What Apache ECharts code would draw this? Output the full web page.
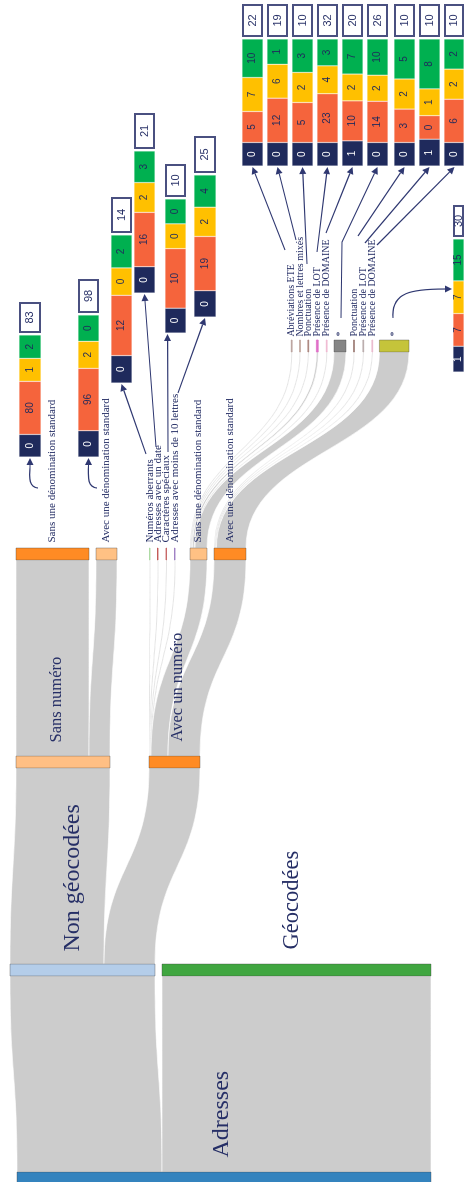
<!DOCTYPE html>
<html><head><meta charset="utf-8">
<script src="https://cdn.jsdelivr.net/npm/echarts@6/dist/echarts.min.js"></script>
<style>
html,body{margin:0;padding:0;width:464px;height:1182px;overflow:hidden;background:#fff}
#chart{position:absolute;left:0;top:0;width:1182px;height:464px;transform-origin:0 0;transform:translate(0,1182px) rotate(-90deg);}
</style></head><body><div id="chart"></div>
<script>
// ---------- DATA ----------
const nodeNames = [
 'Adresses','Non géocodées','Géocodées','Sans numéro','Avec un numéro',
 'Sans une dénomination standard#1','Avec une dénomination standard#1',
 'Numéros aberrants','Adresses avec un date','Caractères spéciaux','Adresses avec moins de 10 lettres',
 'Sans une dénomination standard#2','Avec une dénomination standard#2',
 'Abréviations ETE','Nombres et lettres mixés','Ponctuation#1','Présence de LOT#1','Présence de DOMAINE#1','*#1',
 'Ponctuation#2','Présence de LOT#2','Présence de DOMAINE#2','*#2'
];
const nodeDepths = [0,1,1,2,2,3,3,3,3,3,3,3,3,4,4,4,4,4,4,4,4,4,4];
const linkSources = ['Adresses','Adresses','Non géocodées','Non géocodées','Sans numéro','Sans numéro',
 'Avec un numéro','Avec un numéro','Avec un numéro','Avec un numéro','Avec un numéro','Avec un numéro',
 'Sans une dénomination standard#2','Sans une dénomination standard#2','Sans une dénomination standard#2',
 'Sans une dénomination standard#2','Sans une dénomination standard#2','Sans une dénomination standard#2',
 'Avec une dénomination standard#2','Avec une dénomination standard#2','Avec une dénomination standard#2','Avec une dénomination standard#2'];
const linkTargets = ['Non géocodées','Géocodées','Sans numéro','Avec un numéro',
 'Sans une dénomination standard#1','Avec une dénomination standard#1',
 'Numéros aberrants','Adresses avec un date','Caractères spéciaux','Adresses avec moins de 10 lettres',
 'Sans une dénomination standard#2','Avec une dénomination standard#2',
 'Abréviations ETE','Nombres et lettres mixés','Ponctuation#1','Présence de LOT#1','Présence de DOMAINE#1','*#1',
 'Ponctuation#2','Présence de LOT#2','Présence de DOMAINE#2','*#2'];
const linkValues = [145,269,94,51,73,21,0.5,0.5,0.5,0.5,17,32,0.8,0.8,0.8,1.8,0.8,12,0.8,0.8,0.8,29.6];

// stacked bars (one per detail node)
const barNodes = ['Sans une dénomination standard#1','Avec une dénomination standard#1','Numéros aberrants',
 'Adresses avec un date','Caractères spéciaux','Adresses avec moins de 10 lettres',
 'Abréviations ETE','Nombres et lettres mixés','Ponctuation#1','Présence de LOT#1','Présence de DOMAINE#1','*#1',
 'Ponctuation#2','Présence de LOT#2','Présence de DOMAINE#2','*#2'];
const valNavy   = [0,0,0,0,0,0, 0,0,0,0,1,0,0,1,0,1];
const valOrange = [80,96,12,16,10,19, 5,12,5,23,10,14,3,0,6,7];
const valYellow = [1,2,0,2,0,2, 7,6,2,4,2,2,2,1,2,7];
const valGreen  = [2,0,2,3,0,4, 10,1,3,3,7,10,5,8,2,15];
const valTotal  = [83,98,14,21,10,25, 22,19,10,32,20,26,10,10,10,30];

// ---------- LAYOUT / STYLE (portrait px of the reference) ----------
const W = 1182;
const SK_TOP = 10, SK_H = 421;
const nodeTopPx = [17,10,162,16,149,16,96,149.5,157.5,166,174.5,190,214,
 291.3,299.6,307.9,316.4,326.3,334,353.6,362.9,371.9,379.4];
const nodeColors = ['#3483be','#b4cde9','#40a640','#ffbf84','#ff8b24','#ff8b24','#ffc184',
 '#a9d8a0','#c0504f','#c46060','#9a78c0','#ffc184','#ff8b24',
 '#b9a09a','#c0a49c','#a88078','#e070c8','#f0b8d0','#858585','#9a7a72','#b8a8a8','#e8b8cc','#c5c43a'];
const thin = [7,8,9,10,13,14,15,16,17,19,20,21];
const nodeLabel = { // fontSize, distance, offsetY
 0:[24,14,-2.5], 1:[24,12,-9.5], 2:[22.5,14,-4.5], 3:[16.5,13,-6], 4:[16.5,14,3]
};
// bar boxes: x0, width, bottom y, segment length, total-box length (portrait)
const barLayout = [
 [19,22,457,122,31],[78,21,457,142,34],[111,21,383,148,36],[134,21,293,142,36],[165,21,333,134,33],[194,22,317,142,37],
 [242,21,166,127,33],[267,21,166,127,33],[292,21,166,127,33],[317,21,166,127,33],[342,21,166,127,33],
 [367,21,166,127,33],[394,21,166,127,33],[419,21,166,127,33],[444,21,166,127,33],[453,22,372,133,32]
];
const segColors = ['#1f2a5c','#f5643c','#ffc000','#00b050'];
const navyText = '#262f66';

// ---------- BUILD ----------
const sankeyData = nodeNames.map((n,i)=>{
  const lab = nodeLabel[i] || (nodeDepths[i]===3 ? [11,5,0] : [10,3,0]);
  const isThin = thin.indexOf(i) >= 0;
  return {
    name:n, depth:nodeDepths[i], localY:(nodeTopPx[i]-SK_TOP)/SK_H,
    itemStyle:{color:nodeColors[i], borderColor:isThin?nodeColors[i]:'rgba(60,60,60,0.35)', borderWidth:isThin?0.8:1},
    label:{fontSize:lab[0], distance:lab[1], offset:[0,lab[2]]}
  };
});
const sankeyLinks = linkSources.map((s,i)=>({source:s, target:linkTargets[i], value:linkValues[i]}));

const grids=[], xAxes=[], yAxes=[], series=[];
series.push({
  type:'sankey', left:-2, top:SK_TOP, width:844, height:SK_H,
  nodeWidth:12, nodeGap:7, nodeAlign:'left', layoutIterations:0, draggable:false,
  emphasis:{disabled:true}, silent:true,
  data:sankeyData, links:sankeyLinks,
  lineStyle:{color:'#cccccc', opacity:1, curveness:0.5, borderColor:'#ffffff', borderWidth:0.6},
  label:{show:true, position:'right', fontFamily:'Liberation Serif', color:navyText,
    formatter:p=>p.name.split('#')[0]}
});

function segLens(vals, L){
  const s = vals.reduce((a,b)=>a+b,0) || 1;
  const raw = vals.map(v=>25+35*v/s);
  const t = raw.reduce((a,b)=>a+b,0);
  return raw.map(r=>r*L/t);
}
barLayout.forEach((b,i)=>{
  const [x0,w,yb,L,box] = b;
  const vals = [valNavy[i],valOrange[i],valYellow[i],valGreen[i]];
  const lens = segLens(vals,L);
  const total = L+2+box;
  grids.push({left:W-yb, top:x0, width:total, height:w, show:false});
  xAxes.push({type:'value', gridIndex:i, min:0, max:total, show:false});
  yAxes.push({type:'category', gridIndex:i, data:[barNodes[i]], show:false});
  lens.forEach((len,k)=>{
    series.push({type:'bar', xAxisIndex:i, yAxisIndex:i, stack:'s'+i, barWidth:'100%', silent:true,
      data:[len], itemStyle:{color:segColors[k], borderColor:'rgba(255,255,255,0.5)', borderWidth:0.5},
      label:{show:true, position:'inside', formatter:String(vals[k]), color:k===0?'#ffffff':'#1f2a5c',
        fontFamily:'Liberation Sans', fontSize:10}});
  });
  series.push({type:'bar', xAxisIndex:i, yAxisIndex:i, stack:'s'+i, barWidth:'100%', silent:true,
    data:[2], itemStyle:{color:'rgba(0,0,0,0)'}});
  series.push({type:'bar', xAxisIndex:i, yAxisIndex:i, stack:'s'+i, barWidth:'100%', silent:true,
    data:[box], itemStyle:{color:'#ffffff', borderColor:'#4a5080', borderWidth:2},
    label:{show:true, position:'inside', formatter:String(valTotal[i]), color:'#262f66',
      fontFamily:'Liberation Sans', fontSize:11}});
});

// annotation arrows (portrait coords)
function P(p){ return [W-p[1], p[0]]; }
const arrowColor = '#2f3871';
const graphics = [];
function head(tip, from){
  const dx=tip[0]-from[0], dy=tip[1]-from[1], l=Math.hypot(dx,dy), ux=dx/l, uy=dy/l;
  const bx=tip[0]-ux*7, by=tip[1]-uy*7;
  graphics.push({type:'polygon', z:100, shape:{points:[tip,[bx-uy*3.5,by+ux*3.5],[bx+uy*3.5,by-ux*3.5]]}, style:{fill:arrowColor}});
  return [bx,by];
}
function tipOf(i){ const b=barLayout[i]; return [b[0]+b[1]/2, b[2]+1]; }
function lineArrow(pts, tipP){
  const tip=P(tipP); const lp = pts.map(P);
  const base = head(tip, lp[lp.length-1]);
  graphics.push({type:'polyline', z:100, shape:{points:lp.concat([base])}, style:{stroke:arrowColor, lineWidth:1.2, fill:null}});
}
function curveArrow(c, tipP){
  const tip=P(tipP), cp=c.map(P);
  const base = head(tip, cp[2]);
  graphics.push({type:'bezierCurve', z:100, shape:{x1:cp[0][0],y1:cp[0][1],cpx1:cp[1][0],cpy1:cp[1][1],cpx2:cp[2][0],cpy2:cp[2][1],x2:base[0],y2:base[1]},
    style:{stroke:arrowColor, lineWidth:1.2, fill:null}});
}
curveArrow([[38,488],[27,487],[30,474]], tipOf(0));
curveArrow([[97,488],[86,487],[88.5,474]], tipOf(1));
lineArrow([[146,454]], tipOf(2));
lineArrow([[156,447]], tipOf(3));
lineArrow([[168,452]], [167.5,barLayout[4][2]+1]);
lineArrow([[178,393]], tipOf(5));
lineArrow([[285,250]], tipOf(6));
lineArrow([[296,240]], tipOf(7));
lineArrow([[307,264]], tipOf(8));
lineArrow([[317,252]], tipOf(9));
lineArrow([[326,233]], tipOf(10));
lineArrow([[341,318],[342,242]], tipOf(11));
lineArrow([[358,236]], tipOf(12));
lineArrow([[365,243]], tipOf(13));
lineArrow([[377,245]], tipOf(14));
curveArrow([[393,318],[391,292],[412,289]], [barLayout[15][0]-1, 289]);

const chart = echarts.init(document.getElementById('chart'), null, {renderer:'canvas'});
chart.setOption({
  animation:false, backgroundColor:'#ffffff',
  grid:grids, xAxis:xAxes, yAxis:yAxes, series:series, graphic:graphics
});
</script></body></html>
